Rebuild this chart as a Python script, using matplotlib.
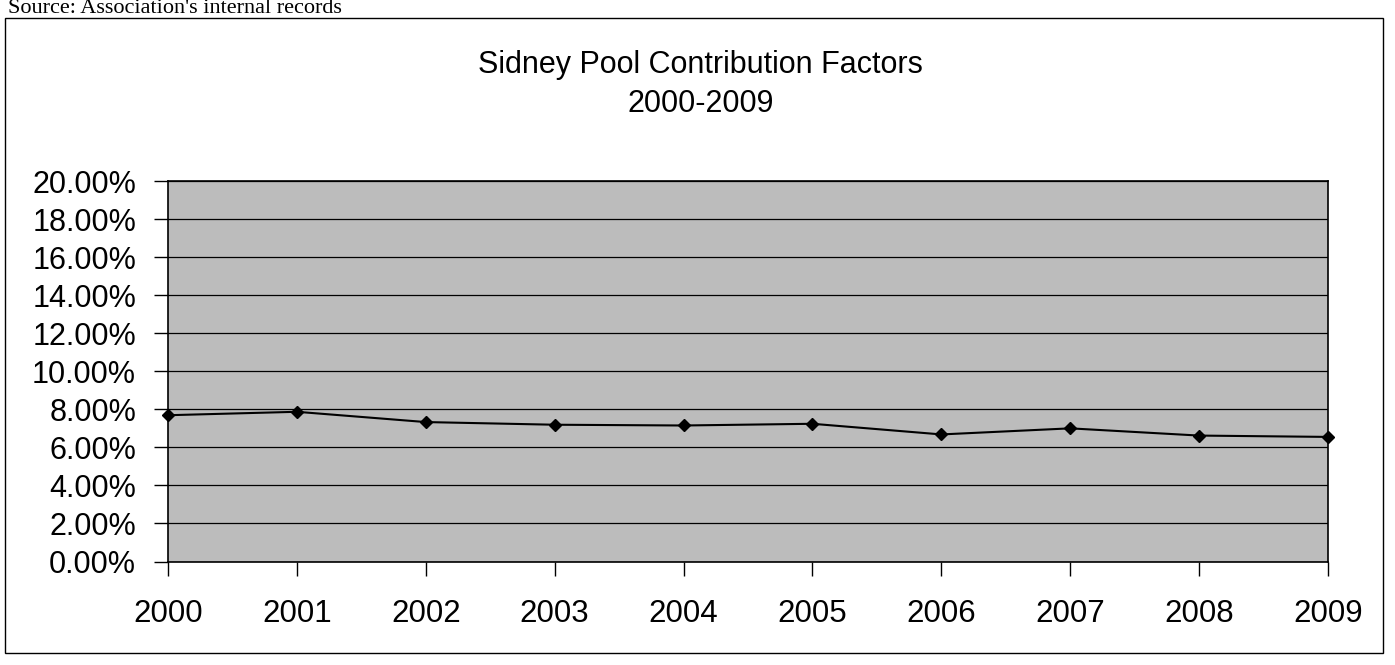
import matplotlib.pyplot as plt
import matplotlib.patches as mpatches
import numpy as np

# data (percent)
years = [2000, 2001, 2002, 2003, 2004, 2005, 2006, 2007, 2008, 2009]
factors = [7.69, 7.87, 7.33, 7.19, 7.15, 7.24, 6.68, 7.00, 6.62, 6.55]
y_ticks = [0, 2, 4, 6, 8, 10, 12, 14, 16, 18, 20]

plt.rcParams['font.family'] = ['Liberation Sans', 'DejaVu Sans']

fig = plt.figure(figsize=(13.95, 6.65), dpi=100)
ax = fig.add_axes([0.1204, 0.1556, 0.8316, 0.5722])

ax.set_facecolor('#bcbcbc')
ax.plot(years, factors, color='black', linewidth=1.5,
        marker='D', markersize=6, markerfacecolor='black', clip_on=False, zorder=3)

ax.set_xlim(years[0], years[-1])
ax.set_ylim(y_ticks[0], y_ticks[-1])
ax.set_xticks(years)
ax.set_xticklabels([str(y) for y in years])
ax.set_yticks(y_ticks)
ax.set_yticklabels([f"{v:.2f}%" for v in y_ticks])
ax.yaxis.grid(True, color='black', linewidth=0.9)
ax.set_axisbelow(True)

ax.tick_params(axis='y', direction='out', length=10, width=1, labelsize=22, pad=13)
ax.tick_params(axis='x', direction='out', length=10, width=1, labelsize=22.5, pad=17)
for sp in ax.spines.values():
    sp.set_linewidth(1.2)
    sp.set_color('black')

# title
fig.text(0.502, 0.890, "Sidney Pool Contribution Factors", ha='center', va='baseline', fontsize=22)
fig.text(0.502, 0.832, "2000-2009", ha='center', va='baseline', fontsize=22)

# source note and outer frame
fig.text(0.006, 0.980, "Source: Association's internal records", ha='left', va='baseline',
         fontsize=16, family=['Liberation Serif', 'DejaVu Serif'])
frame = mpatches.Rectangle((5 / 1395, 1 - 653 / 665), (1383 - 5) / 1395, (653 - 18) / 665,
                           transform=fig.transFigure, fill=False, edgecolor='black', linewidth=1)
fig.patches.append(frame)

fig.savefig('out.png', dpi=100)
